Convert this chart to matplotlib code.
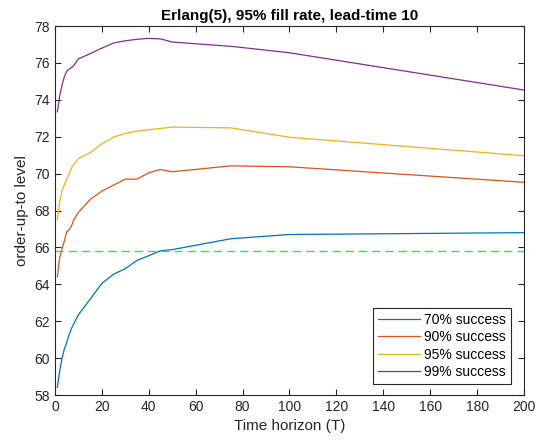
import numpy as np
import matplotlib
matplotlib.use("Agg")
import matplotlib.pyplot as plt

plt.rcParams["font.family"] = ["Liberation Sans", "DejaVu Sans"]

# Time horizon values
horizon = [1, 2, 3, 4, 5, 6, 7, 8, 9, 10, 15, 20, 25, 30, 35, 40, 45, 50, 75, 100, 200]

# order-up-to levels per success probability
level_70 = [58.42, 59.3, 60.0, 60.5, 60.85, 61.25, 61.6, 61.85, 62.1, 62.35, 63.2,
            64.05, 64.55, 64.85, 65.3, 65.55, 65.82, 65.88, 66.47, 66.7, 66.8]
level_90 = [64.4, 65.45, 65.95, 66.35, 66.85, 66.95, 67.15, 67.5, 67.7, 67.9, 68.6,
            69.05, 69.38, 69.7, 69.7, 70.05, 70.22, 70.1, 70.42, 70.37, 69.53]
level_95 = [67.5, 68.5, 69.05, 69.4, 69.7, 70.0, 70.3, 70.5, 70.65, 70.82, 71.13,
            71.62, 71.98, 72.18, 72.3, 72.38, 72.45, 72.52, 72.48, 71.97, 70.97]
level_99 = [73.35, 74.2, 74.8, 75.25, 75.55, 75.65, 75.75, 75.85, 76.05, 76.22, 76.5,
            76.8, 77.08, 77.2, 77.28, 77.33, 77.3, 77.13, 76.9, 76.55, 74.53]
labels = ["70% success", "90% success", "95% success", "99% success"]
colors = ["#0072BD", "#D95319", "#EDB120", "#7E2F8E"]

reference_level = 65.8

fig = plt.figure(figsize=(5.36, 4.46), dpi=100)
ax = fig.add_axes([0.1026, 0.1143, 0.875, 0.8274])

for vals, lab, col in zip([level_70, level_90, level_95, level_99], labels, colors):
    ax.plot(horizon, vals, color=col, linewidth=0.9, label=lab)

ax.axhline(reference_level, color="#3ee03e", linestyle=(0, (6, 3.5)), linewidth=1.0)

ax.set_xlim(0, 200)
ax.set_ylim(58, 78)
ax.set_xticks(np.arange(0, 201, 20))
ax.set_yticks(np.arange(58, 79, 2))

gray = "#262626"
for sp in ax.spines.values():
    sp.set_color(gray)
    sp.set_linewidth(0.8)
ax.tick_params(direction="in", length=4, width=0.8, colors=gray, labelsize=10,
               top=True, right=True)
for lbl in ax.get_xticklabels() + ax.get_yticklabels():
    lbl.set_color(gray)

ax.set_xlabel("Time horizon (T)", fontsize=11, color=gray)
ax.set_ylabel("order-up-to level", fontsize=11, color=gray)
ax.set_title("Erlang(5), 95% fill rate, lead-time 10", fontsize=11, fontweight="bold", pad=4)

leg = ax.legend(loc="lower right", bbox_to_anchor=(0.972, 0.03), fontsize=10,
                fancybox=False, framealpha=1, edgecolor=gray, handlelength=3.0,
                handletextpad=0.3, borderpad=0.35, labelspacing=0.25,
                borderaxespad=0)
leg.get_frame().set_linewidth(0.8)

fig.savefig("out.png", dpi=100)
